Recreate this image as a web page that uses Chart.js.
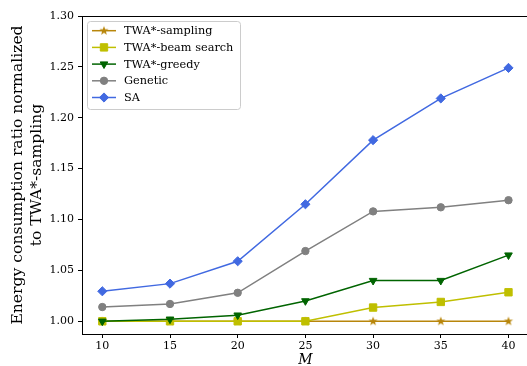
<!DOCTYPE html>
<html lang="en">
<head>
  <meta charset="UTF-8" />
  <title>Energy consumption ratio vs M</title>
  <script src="https://cdn.jsdelivr.net/npm/chart.js"></script>
  <style>
    body { margin: 0; background: #fff; overflow: hidden; }
    #c { display: block; }
  </style>
</head>
<body>
  <canvas id="c" width="535" height="366"></canvas>
  <script>
    // data
    const mValues = [10, 15, 20, 25, 30, 35, 40];
    const samplingVals = [1.000, 1.000, 1.000, 1.000, 1.000, 1.000, 1.000];
    const beamVals     = [1.000, 1.000, 1.000, 1.000, 1.0135, 1.019, 1.0285];
    const greedyVals   = [1.000, 1.002, 1.006, 1.020, 1.040, 1.040, 1.065];
    const geneticVals  = [1.014, 1.017, 1.028, 1.069, 1.108, 1.112, 1.119];
    const saVals       = [1.0295, 1.037, 1.059, 1.115, 1.178, 1.219, 1.249];
    const xTicks = [10, 15, 20, 25, 30, 35, 40];
    const yTicks = [1.00, 1.05, 1.10, 1.15, 1.20, 1.25, 1.30];
    const seriesNames = ['TWA*-sampling', 'TWA*-beam search', 'TWA*-greedy', 'Genetic', 'SA'];

    const SERIF = "'DejaVu Serif', 'Liberation Serif', serif";

    // filled five point star, like matplotlib '*'
    function starImage(color) {
      const cv = document.createElement('canvas');
      cv.width = 12; cv.height = 12;
      const g = cv.getContext('2d');
      g.fillStyle = color;
      g.beginPath();
      for (let i = 0; i < 10; i++) {
        const r = i % 2 ? 2.0 : 4.8;
        const a = -Math.PI / 2 + i * Math.PI / 5;
        const px = 6 + r * Math.cos(a), py = 6 + r * Math.sin(a);
        i ? g.lineTo(px, py) : g.moveTo(px, py);
      }
      g.closePath();
      g.fill();
      return cv;
    }

    const colors = ['#b8860b', '#bfbf00', '#006400', '#808080', '#4169e1'];
    const styles = [
      { pointStyle: starImage(colors[0]), rotation: 0, radius: 5 },
      { pointStyle: 'rect', rotation: 0, radius: 5.2 },
      { pointStyle: 'triangle', rotation: 180, radius: 4.4 },
      { pointStyle: 'circle', rotation: 0, radius: 3.7 },
      { pointStyle: 'rectRot', rotation: 0, radius: 4.6 }
    ];
    const allVals = [samplingVals, beamVals, greedyVals, geneticVals, saVals];

    const datasets = allVals.map((vals, i) => ({
      label: seriesNames[i],
      data: vals.map((v, k) => ({ x: mValues[k], y: v })),
      borderColor: colors[i],
      backgroundColor: colors[i],
      pointBackgroundColor: colors[i],
      pointBorderColor: colors[i],
      pointBorderWidth: 1,
      pointStyle: styles[i].pointStyle,
      pointRotation: styles[i].rotation,
      pointRadius: styles[i].radius,
      borderWidth: 1.5,
      tension: 0,
      order: 5 - i
    }));

    const framePlugin = {
      id: 'frame',
      afterDraw(chart) {
        const { ctx, chartArea: a } = chart;
        ctx.save();
        ctx.strokeStyle = '#000';
        ctx.lineWidth = 1;
        ctx.beginPath();
        ctx.moveTo(a.left, a.top + 0.5);
        ctx.lineTo(a.right, a.top + 0.5);
        ctx.stroke();

        // axis titles
        ctx.fillStyle = '#000';
        ctx.textAlign = 'center';
        ctx.textBaseline = 'middle';
        ctx.font = 'italic 14px ' + SERIF;
        ctx.fillText('M', (a.left + a.right) / 2, 360);
        ctx.save();
        ctx.translate(18, (a.top + a.bottom) / 2);
        ctx.rotate(-Math.PI / 2);
        ctx.font = '15.6px ' + SERIF;
        ctx.fillText('Energy consumption ratio normalized', 0, 0);
        ctx.fillText('to TWA*-sampling', 0, 19);
        ctx.restore();

        // legend
        const bx = 87, by = 21, bw = 153, bh = 88;
        ctx.fillStyle = 'rgba(255,255,255,0.8)';
        ctx.strokeStyle = '#cccccc';
        ctx.beginPath();
        ctx.roundRect(bx + 0.5, by + 0.5, bw, bh, 3);
        ctx.fill();
        ctx.stroke();
        ctx.font = '11.3px ' + SERIF;
        ctx.textAlign = 'left';
        seriesNames.forEach((name, i) => {
          const y = 30.7 + i * 16.7;
          ctx.strokeStyle = colors[i];
          ctx.fillStyle = colors[i];
          ctx.lineWidth = 1.5;
          ctx.beginPath();
          ctx.moveTo(92, y);
          ctx.lineTo(116, y);
          ctx.stroke();
          ctx.lineWidth = 1;
          if (Chart.helpers && Chart.helpers.drawPoint) {
            Chart.helpers.drawPoint(ctx, {
              pointStyle: styles[i].pointStyle,
              rotation: styles[i].rotation,
              radius: styles[i].radius,
              borderWidth: 1
            }, 104, y);
          }
          ctx.fillStyle = '#000';
          ctx.fillText(name, 124, y + 0.5);
        });
        ctx.restore();
      }
    };

    new Chart(document.getElementById('c'), {
      type: 'line',
      data: { datasets },
      options: {
        responsive: false,
        animation: false,
        devicePixelRatio: 1,
        layout: { padding: { top: 16, right: 2, left: 0, bottom: 0 } },
        plugins: { legend: { display: false }, tooltip: { enabled: false } },
        scales: {
          x: {
            type: 'linear',
            min: 8.5,
            max: 41.5,
            afterBuildTicks: s => { s.ticks = xTicks.map(v => ({ value: v })); },
            afterFit: s => { s.height = 32; },
            grid: { drawOnChartArea: false, tickLength: 4, color: '#000', lineWidth: 1 },
            border: { color: '#000', width: 1 },
            ticks: { font: { family: SERIF, size: 11 }, color: '#000', padding: 2, maxRotation: 0, autoSkip: false }
          },
          y: {
            type: 'linear',
            min: 0.9875,
            max: 1.30,
            afterBuildTicks: s => { s.ticks = yTicks.map(v => ({ value: v })); },
            afterFit: s => { s.width = 82; },
            grid: { drawOnChartArea: false, tickLength: 4, color: '#000', lineWidth: 1 },
            border: { color: '#000', width: 1 },
            ticks: { font: { family: SERIF, size: 11 }, color: '#000', padding: 4, autoSkip: false,
                     callback: v => v.toFixed(2) }
          }
        }
      },
      plugins: [framePlugin]
    });
  </script>
</body>
</html>
